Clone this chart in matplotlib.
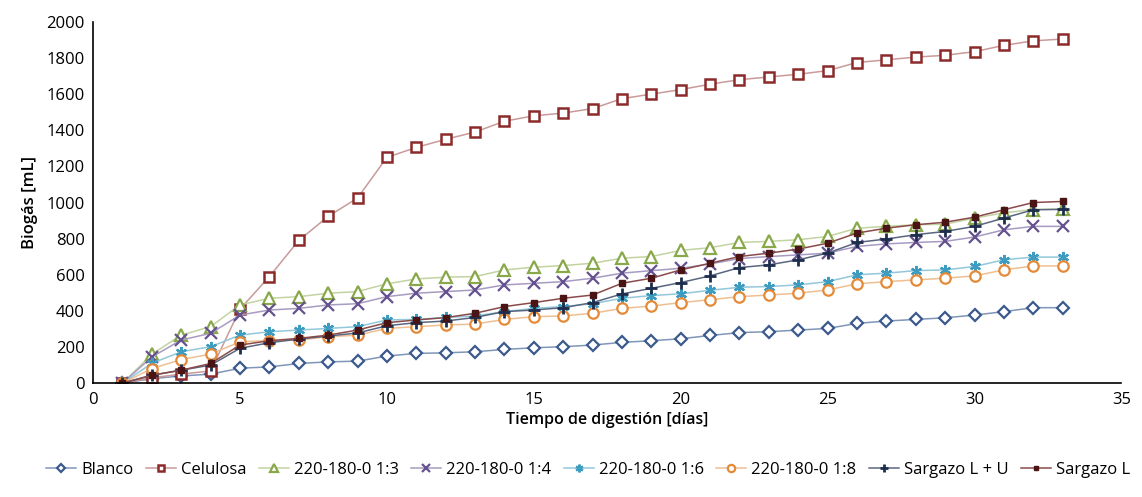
import matplotlib
matplotlib.use("Agg")
import matplotlib.pyplot as plt

plt.rcParams['font.family'] = ['Open Sans', 'DejaVu Sans']

# días de digestión
dias = list(range(1, 34))

blanco = [0, 25, 40, 50, 83, 90, 109, 118, 122, 150, 165, 168, 174, 187, 196, 202, 211,
          226, 235, 246, 264, 280, 285, 294, 303, 331, 344, 353, 362, 377, 396, 418, 418]
celulosa = [0, 30, 50, 68, 410, 590, 790, 923, 1025, 1250, 1305, 1350, 1390, 1450, 1480, 1495, 1520,
            1575, 1600, 1625, 1655, 1680, 1695, 1710, 1730, 1775, 1790, 1805, 1815, 1835, 1870, 1895, 1905]
r13 = [0, 160, 266, 313, 433, 470, 479, 498, 507, 550, 577, 587, 590, 627, 642, 651, 664,
       692, 701, 735, 750, 779, 785, 794, 812, 858, 868, 877, 880, 914, 943, 961, 965]
r14 = [0, 145, 239, 276, 377, 405, 414, 433, 440, 479, 498, 507, 516, 544, 553, 562, 581,
       609, 623, 636, 660, 690, 701, 710, 720, 757, 771, 779, 785, 809, 849, 868, 868]
r16 = [0, 110, 174, 202, 266, 285, 294, 303, 313, 350, 353, 364, 372, 396, 414, 424, 440,
       470, 485, 495, 514, 531, 535, 544, 562, 600, 609, 623, 627, 646, 683, 698, 698]
r18 = [0, 81, 131, 161, 229, 236, 239, 257, 266, 303, 313, 322, 327, 353, 368, 372, 387,
       414, 427, 446, 462, 479, 488, 498, 516, 550, 562, 572, 581, 594, 627, 649, 649]
sargazo_lu = [0, 44, 72, 100, 193, 224, 244, 261, 278, 318, 335, 344, 364, 396, 405, 418, 446,
              494, 525, 557, 594, 640, 655, 683, 720, 779, 798, 822, 840, 868, 914, 960, 962]
sargazo_l = [0, 44, 72, 109, 211, 235, 248, 266, 294, 335, 350, 363, 387, 424, 446, 470, 488,
             553, 581, 627, 664, 701, 720, 742, 775, 831, 858, 877, 891, 919, 960, 1000, 1006]

series = [
    ("Blanco", blanco, "#3b5a8c", "#7f96b8", "D", 6, "white", 1.6),
    ("Celulosa", celulosa, "#8c2a2a", "#c99a9a", "s", 7, "white", 1.8),
    ("220-180-0 1:3", r13, "#88a84a", "#c3d3a2", "^", 8, "white", 1.6),
    ("220-180-0 1:4", r14, "#65528f", "#a79bc2", "x", 8, "none", 1.6),
    ("220-180-0 1:6", r16, "#3d9cbf", "#93c7da", (6, 2, 0), 8, "none", 1.6),
    ("220-180-0 1:8", r18, "#e48a38", "#efbf94", "o", 7.5, "white", 1.6),
    ("Sargazo L + U", sargazo_lu, "#1e2d4c", "#5a6680", "+", 8.5, "none", 2.0),
    ("Sargazo L", sargazo_l, "#4a1414", "#8a4a4a", "s", 4, "#4a1414", 1.0),
]

fig, ax = plt.subplots(figsize=(11.42, 4.97), dpi=100)
fig.subplots_adjust(left=0.0815, right=0.982, top=0.956, bottom=0.229)

for nombre, vals, col, lcol, mk, ms, mfc, mew in series:
    ax.plot(dias, vals, color=lcol, linewidth=1.1, marker=mk, markersize=ms,
            markerfacecolor=mfc, markeredgecolor=col, markeredgewidth=mew, label=nombre)

ax.set_xlim(0, 35)
ax.set_ylim(0, 2000)
ax.set_xticks(range(0, 36, 5))
ax.set_yticks(range(0, 2001, 200))
ax.tick_params(length=0, labelsize=12, pad=6)
ax.spines['top'].set_visible(False)
ax.spines['right'].set_visible(False)
ax.spines['left'].set_linewidth(1.2)
ax.spines['bottom'].set_linewidth(1.2)
ax.set_xlabel("Tiempo de digestión [días]", fontsize=11.5, labelpad=3, fontweight="semibold")
ax.set_ylabel("Biogás [mL]", fontsize=12, labelpad=6, fontweight="semibold")

fig.legend(loc="center", bbox_to_anchor=(0.515, 0.055), ncol=8, frameon=False,
           fontsize=12, handlelength=1.8, columnspacing=0.75, handletextpad=0.3,
           markerscale=0.7)

fig.savefig("out.png", dpi=100)
